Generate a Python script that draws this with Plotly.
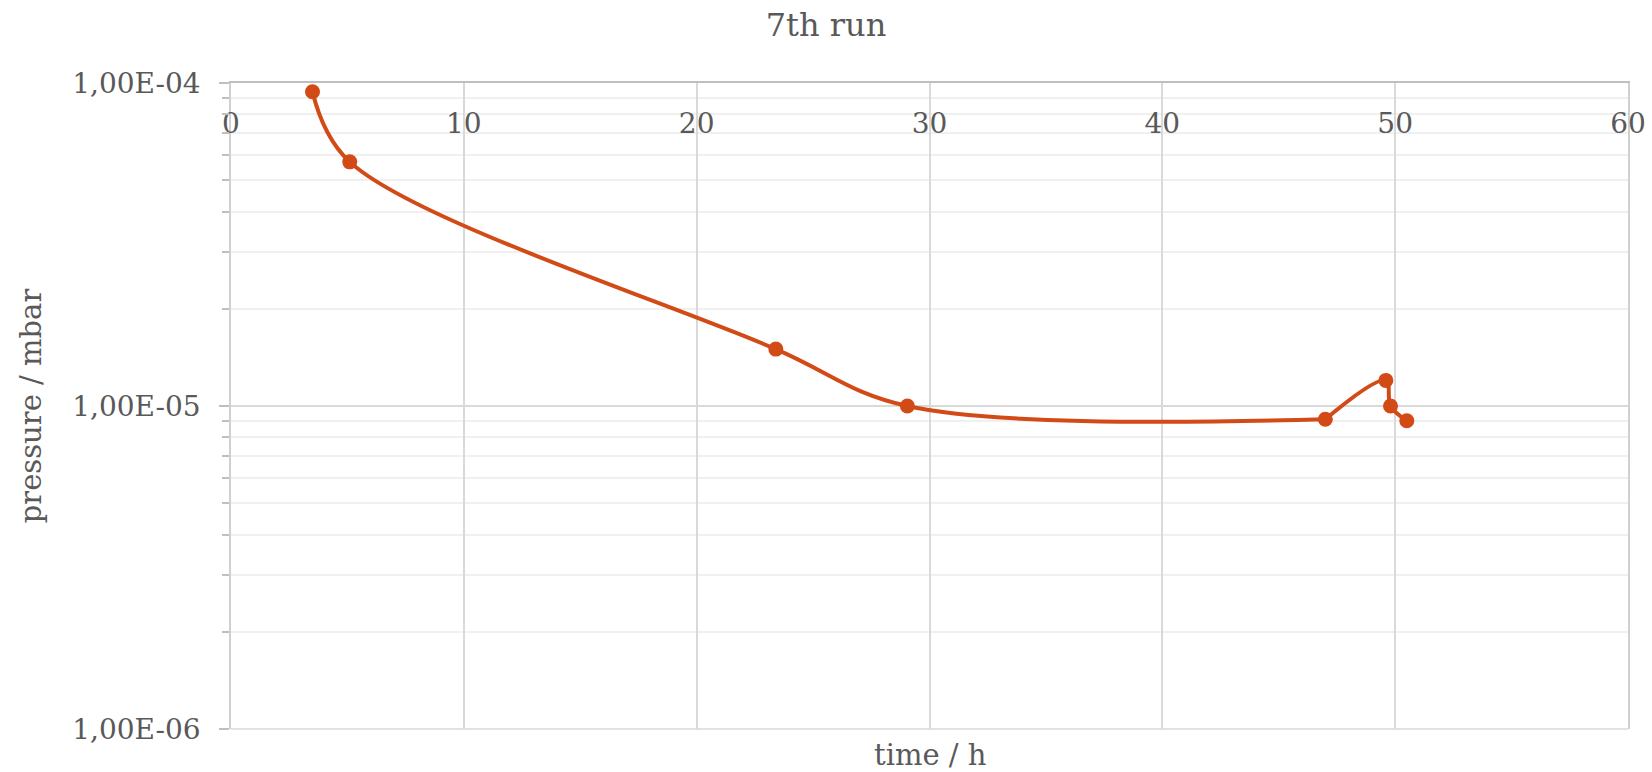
import plotly.graph_objects as go

# Measurement series: elapsed time (h) and chamber pressure (mbar)
time_h = [3.5, 5.1, 23.4, 29.05, 47.0, 49.6, 49.8, 50.5]
pressure_mbar = [9.4e-5, 5.7e-5, 1.5e-5, 1.0e-5, 9.1e-6, 1.2e-5, 1.0e-5, 9.0e-6]

# Axis ticks
x_ticks = [0, 10, 20, 30, 40, 50, 60]
y_major = [1e-6, 1e-5, 1e-4]
y_major_text = ["1,00E-06", "1,00E-05", "1,00E-04"]
y_minor = [m * 10.0 ** e for e in (-6, -5) for m in range(2, 10)]

FONT = "DejaVu Serif"
TEXT = "#595959"
ORANGE = "#D24A16"

# The smoothed curve is drawn in two pieces that meet at the 47 h reading,
# so the sharp rise at the end does not bend the long flat stretch before it.
SPLIT = 4

fig = go.Figure()
for sl in (slice(0, SPLIT + 1), slice(SPLIT, None)):
    fig.add_trace(
        go.Scatter(
            x=time_h[sl],
            y=pressure_mbar[sl],
            mode="lines",
            line=dict(color=ORANGE, width=4, shape="spline", smoothing=1),
            showlegend=False,
            hoverinfo="skip",
        )
    )
fig.add_trace(
    go.Scatter(
        x=time_h,
        y=pressure_mbar,
        mode="markers",
        marker=dict(color=ORANGE, size=15),
        showlegend=False,
    )
)

fig.update_layout(
    width=1652,
    height=772,
    margin=dict(l=231, r=24, t=83, b=43, autoexpand=False),
    paper_bgcolor="white",
    plot_bgcolor="white",
    font=dict(family=FONT, color=TEXT, size=28),
    title=dict(
        text="7th run",
        x=0.5,
        xref="container",
        xanchor="center",
        y=1 - 25 / 772,
        yanchor="middle",
        font=dict(family=FONT, size=32, color=TEXT),
    ),
    xaxis=dict(
        range=[0, 60],
        side="top",
        automargin=False,
        tickvals=x_ticks,
        ticks="",
        ticklabelposition="inside",
        ticklabeloverflow="allow",
        ticklabelstandoff=33,
        showline=True,
        linecolor="#bfbfbf",
        linewidth=1.5,
        showgrid=True,
        gridcolor="#d9d9d9",
        gridwidth=1.5,
        zeroline=False,
        tickfont=dict(family=FONT, size=28, color=TEXT),
    ),
    yaxis=dict(
        type="log",
        range=[-6, -4],
        automargin=False,
        tickvals=y_major,
        ticktext=y_major_text,
        ticks="outside",
        ticklen=10,
        tickcolor="#bfbfbf",
        tickwidth=1.5,
        ticklabelstandoff=13,
        showline=True,
        mirror=True,
        linecolor="#d0d0d0",
        linewidth=1.5,
        showgrid=True,
        gridcolor="#d9d9d9",
        gridwidth=1.5,
        zeroline=False,
        minor=dict(
            tickvals=y_minor,
            ticks="outside",
            ticklen=7,
            tickcolor="#bfbfbf",
            showgrid=True,
            gridcolor="#f0f0f0",
            gridwidth=1.5,
        ),
        title=dict(
            text="pressure / mbar",
            font=dict(family=FONT, size=29, color=TEXT),
            standoff=22,
        ),
        tickfont=dict(family=FONT, size=28, color=TEXT),
    ),
    shapes=[
        dict(
            type="line",
            xref="paper",
            yref="paper",
            x0=0,
            x1=1,
            y0=0,
            y1=0,
            line=dict(color="#d9d9d9", width=1.5),
            layer="below",
        )
    ],
    annotations=[
        dict(
            text="time / h",
            xref="paper",
            yref="paper",
            x=0.5,
            y=0,
            xanchor="center",
            yanchor="middle",
            yshift=-26,
            showarrow=False,
            font=dict(family=FONT, size=29, color=TEXT),
        )
    ],
)

fig.write_html("out.html")
